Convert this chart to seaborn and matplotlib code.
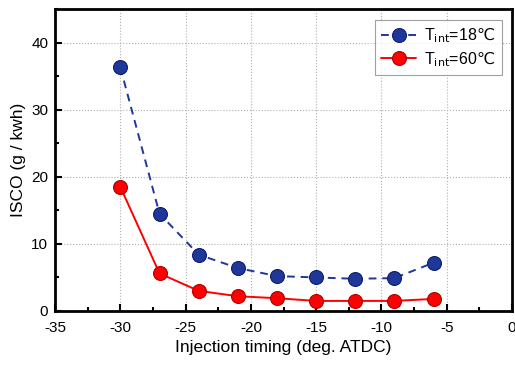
import matplotlib
matplotlib.use("Agg")
import matplotlib.pyplot as plt
import numpy as np
import pandas as pd
import seaborn as sns
from matplotlib.ticker import MultipleLocator

# injection timing (deg. ATDC) and ISCO values
timing = [-30, -27, -24, -21, -18, -15, -12, -9, -6]
isco_18 = [36.3, 14.5, 8.4, 6.4, 5.2, 5.0, 4.8, 4.9, 7.2]
isco_60 = [18.5, 5.6, 3.0, 2.2, 1.9, 1.5, 1.5, 1.5, 1.8]
# the ℃ sign sits inside mathtext so it is drawn with DejaVu Sans
labels = [r"T$_{\mathrm{int}}$=18$\mathrm{℃}$", r"T$_{\mathrm{int}}$=60$\mathrm{℃}$"]

sns.set_style("ticks")
plt.rcParams['font.family'] = ['Liberation Sans', 'DejaVu Sans']
plt.rcParams['mathtext.fontset'] = 'custom'
plt.rcParams['mathtext.rm'] = 'DejaVu Sans'
plt.rcParams['mathtext.it'] = 'DejaVu Sans'
plt.rcParams['axes.unicode_minus'] = False
plt.rcParams['text.color'] = 'black'
plt.rcParams['axes.labelcolor'] = 'black'
plt.rcParams['xtick.color'] = 'black'
plt.rcParams['ytick.color'] = 'black'

df = pd.DataFrame({
    "timing": timing * 2,
    "isco": isco_18 + isco_60,
    "case": [labels[0]] * len(timing) + [labels[1]] * len(timing),
})

fig = plt.figure(figsize=(5.15, 3.65), dpi=100)
ax = fig.add_axes([0.107, 0.148, 0.887, 0.827])

sns.lineplot(data=df, x="timing", y="isco", hue="case", style="case",
             palette=["#1e3799", "#ff0000"], dashes=[(4, 3), ""],
             markers=["o", "o"], markersize=10, linewidth=1.4,
             markeredgewidth=0.8, ax=ax)

# darker edges for the round markers
for line, ec in zip(ax.get_lines()[:2], ["#0d1f6b", "#b00000"]):
    line.set_markeredgecolor(ec)

ax.set_xlim(-35, 0)
ax.set_ylim(0, 45)
ax.xaxis.set_major_locator(MultipleLocator(5))
ax.xaxis.set_minor_locator(MultipleLocator(2.5))
ax.yaxis.set_major_locator(MultipleLocator(10))
ax.yaxis.set_minor_locator(MultipleLocator(5))
ax.tick_params(which="both", direction="in", labelsize=11, width=1.5)
ax.tick_params(which="major", length=5)
ax.tick_params(which="minor", length=3)
ax.tick_params(axis="x", pad=7)
ax.tick_params(axis="y", pad=5)
ax.grid(True, which="major", linestyle=":", color="#b0b0b0", linewidth=0.8)
for s in ax.spines.values():
    s.set_linewidth(2)
    s.set_color("black")
    s.set_visible(True)

ax.set_xlabel("Injection timing (deg. ATDC)", fontsize=12.5)
ax.set_ylabel("ISCO (g / kwh)", fontsize=12.5)

leg = ax.legend(loc="upper right", fontsize=11.5, frameon=True, fancybox=False,
                edgecolor="#888888", handlelength=2.2, handletextpad=0.5,
                borderpad=0.4, labelspacing=0.3, bbox_to_anchor=(0.995, 0.99))
leg.get_frame().set_linewidth(0.8)
for h, ec in zip(leg.legend_handles, ["#0d1f6b", "#b00000"]):
    h.set_markersize(10)
    h.set_markeredgecolor(ec)

fig.savefig("out.png", dpi=100)
